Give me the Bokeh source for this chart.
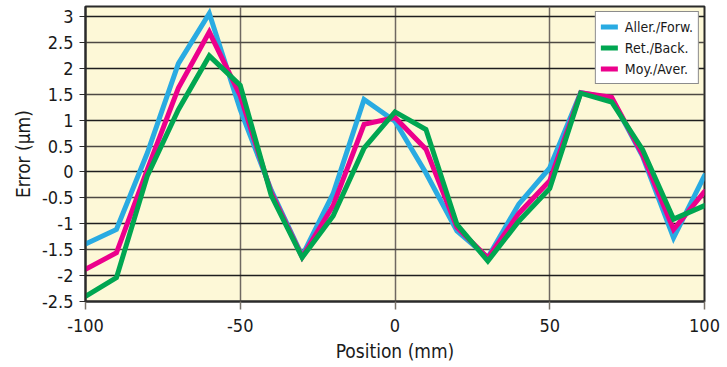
from bokeh.plotting import figure
from bokeh.models import Range1d, FixedTicker, Grid, Legend, LegendItem
from bokeh.embed import file_html
from bokeh.resources import INLINE

positions = [-100, -90, -80, -70, -60, -50, -40, -30, -20, -10, 0,
             10, 20, 30, 40, 50, 60, 70, 80, 90, 100]
forward = [-1.39, -1.11, 0.37, 2.09, 3.06, 1.2, -0.35, -1.62, -0.42, 1.4, 0.98,
           -0.02, -1.14, -1.65, -0.62, 0.08, 1.53, 1.42, 0.3, -1.27, -0.07]
backward = [-2.4, -2.04, -0.07, 1.2, 2.24, 1.67, -0.45, -1.65, -0.85, 0.46, 1.16,
            0.82, -1.01, -1.72, -0.95, -0.32, 1.52, 1.35, 0.43, -0.91, -0.65]
average = [-1.88, -1.56, 0.05, 1.62, 2.7, 1.47, -0.4, -1.64, -0.65, 0.92, 1.05,
           0.44, -1.07, -1.66, -0.8, -0.17, 1.53, 1.44, 0.33, -1.11, -0.38]

series_names = ["Aller./Forw.", "Ret./Back.", "Moy./Aver."]
y_ticks = [-2.5, -2, -1.5, -1, -0.5, 0, 0.5, 1, 1.5, 2, 2.5, 3]
y_tick_labels = ["-2.5", "-2", "-1.5", "-1", "-0.5", "0", "0.5", "1", "1.5", "2", "2.5", "3"]
x_ticks = [-100, -50, 0, 50, 100]
x_tick_labels = ["-100", "-50", "0", "50", "100"]

FONT = "'Liberation Sans Narrow', 'DejaVu Sans Condensed', 'Arial Narrow', sans-serif"
BLUE = "#29ABE2"
GREEN = "#00A651"
PINK = "#EC008C"

p = figure(frame_width=619, frame_height=295, output_backend="svg", toolbar_location=None,
           x_range=Range1d(-100, 100), y_range=Range1d(-2.5, 3.193),
           min_border_left=85, min_border_right=21, min_border_top=6,
           min_border_bottom=64)
p.background_fill_color = "#FDF8D7"
p.border_fill_color = "white"
p.outline_line_color = "#2a2a2a"
p.outline_line_width = 2

# axes
p.xaxis.ticker = FixedTicker(ticks=x_ticks)
p.xaxis.major_label_overrides = {t: l for t, l in zip(x_ticks, x_tick_labels)}
p.yaxis.ticker = FixedTicker(ticks=y_ticks)
p.yaxis.major_label_overrides = {t: l for t, l in zip(y_ticks, y_tick_labels)}
for ax in (p.xaxis[0], p.yaxis[0]):
    ax.major_label_text_font = FONT
    ax.major_label_text_font_size = "18px"
    ax.major_label_text_color = "#1a1a1a"
    ax.axis_label_text_font = FONT
    ax.axis_label_text_font_size = "19px"
    ax.axis_label_text_font_style = "normal"
    ax.axis_label_text_color = "#1a1a1a"
    ax.minor_tick_line_color = None
    ax.major_tick_in = 0
    ax.axis_line_color = "#2a2a2a"
    ax.axis_line_width = 2
p.xaxis.major_tick_out = 8
p.xaxis.major_tick_line_color = "#7a736b"
p.xaxis.major_tick_line_width = 1.5
p.xaxis.major_label_standoff = 9
p.xaxis.axis_label = "Position (mm)"
p.xaxis.axis_label_standoff = 5
p.yaxis.major_tick_out = 6
p.yaxis.major_tick_line_color = "#2a2a2a"
p.yaxis.major_label_standoff = 6
p.yaxis.axis_label = "Error (µm)"
p.yaxis.axis_label_standoff = 5

# grids
p.xgrid.ticker = FixedTicker(ticks=[-50, 0, 50])
p.xgrid.grid_line_color = "#6f6861"
p.xgrid.grid_line_width = 1.5
p.ygrid.ticker = FixedTicker(ticks=[t for t in y_ticks if float(t).is_integer()])
p.ygrid.grid_line_color = "#1e1e1e"
p.ygrid.grid_line_width = 1.5
half_grid = Grid(dimension=1, ticker=FixedTicker(ticks=[t for t in y_ticks if not float(t).is_integer()]),
                 grid_line_color="#4d4943", grid_line_width=1.5)
p.add_layout(half_grid)

r_f = p.line(positions, forward, line_color=BLUE, line_width=5, line_join="miter", line_cap="round")
r_a = p.line(positions, average, line_color=PINK, line_width=5, line_join="miter", line_cap="round")
r_b = p.line(positions, backward, line_color=GREEN, line_width=5, line_join="miter", line_cap="round")

legend = Legend(items=[LegendItem(label=series_names[0], renderers=[r_f]),
                       LegendItem(label=series_names[1], renderers=[r_b]),
                       LegendItem(label=series_names[2], renderers=[r_a])],
                location="top_right")
legend.label_text_font = FONT
legend.label_text_font_size = "14px"
legend.label_text_color = "#1a1a1a"
legend.border_line_color = "#1a1a1a"
legend.border_line_width = 1.5
legend.background_fill_color = "white"
legend.background_fill_alpha = 1
legend.glyph_width = 17
legend.glyph_height = 19
legend.label_height = 19
legend.spacing = 2
legend.padding = 5
legend.margin = 5
legend.label_standoff = 7
p.add_layout(legend)

open("out.html", "w").write(file_html(p, INLINE))
